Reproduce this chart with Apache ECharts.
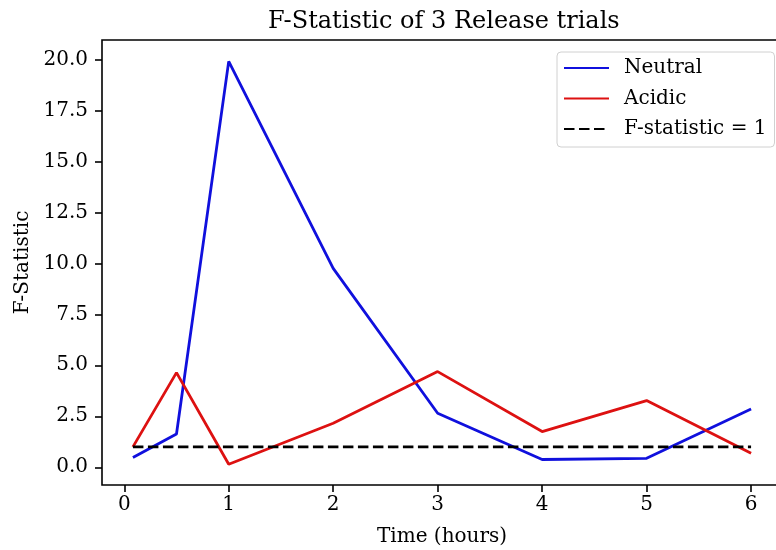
<!DOCTYPE html>
<html>
<head>
<meta charset="utf-8">
<script src="https://cdn.jsdelivr.net/npm/echarts@6/dist/echarts.min.js"></script>
<style>
  html, body { margin: 0; padding: 0; background: #fff; }
  #chart { width: 776px; height: 550px; }
</style>
</head>
<body>
<div id="chart"></div>
<script>
// time points (hours)
const times = [0.083, 0.5, 1, 2, 3, 4, 5, 6]
const neutral = [0.48, 1.63, 19.9, 9.75, 2.65, 0.38, 0.44, 2.86]
const acidic = [1.0, 4.64, 0.15, 2.16, 4.69, 1.75, 3.27, 0.69]
const refLine = [1, 1]
const refTimes = [0.083, 6]
const xTicks = [0, 1, 2, 3, 4, 5, 6]
const yTicks = [0, 2.5, 5, 7.5, 10, 12.5, 15, 17.5, 20]

const font = 'DejaVu Serif'
const chart = echarts.init(document.getElementById('chart'))

const toPairs = (xs, ys) => xs.map((x, i) => [x, ys[i]])

const option = {
  animation: false,
  backgroundColor: '#fff',
  title: {
    text: 'F-Statistic of 3 Release trials',
    left: 263,
    top: 5,
    textStyle: { fontFamily: font, fontSize: 24, fontWeight: 'normal', color: '#000' }
  },
  legend: {
    orient: 'vertical',
    left: 557,
    top: 52,
    padding: [6, 8, 8, 6],
    itemWidth: 45,
    itemHeight: 0.5,   // tiny so no marker dot is drawn on the line sample
    itemGap: 10.5,
    backgroundColor: '#fff',
    borderColor: '#d0d0d0',
    borderWidth: 1,
    borderRadius: 4,
    textStyle: { fontFamily: font, fontSize: 20, color: '#000', lineHeight: 20, padding: [0, 0, 0, 10] },
    data: ['Neutral', 'Acidic', 'F-statistic = 1']
  },
  grid: {
    left: 102,
    top: 40,
    width: 680,   // right spine sits just past the window edge, as in the original
    height: 445,
    show: true,
    borderColor: '#000',
    borderWidth: 1.6,
    containLabel: false,
    outerBoundsMode: 'none'
  },
  xAxis: {
    type: 'value',
    min: -0.213,
    max: 6.296,
    name: 'Time (hours)',
    nameLocation: 'middle',
    nameGap: 42,
    nameTextStyle: { fontFamily: font, fontSize: 20, color: '#000' },
    splitLine: { show: false },
    axisLine: { show: false, onZero: false },
    axisTick: { show: true, customValues: xTicks, length: 7, lineStyle: { color: '#000', width: 1.6 } },
    axisLabel: {
      customValues: xTicks,
      fontFamily: font, fontSize: 20, color: '#000', margin: 10,
      formatter: v => String(v)
    }
  },
  yAxis: {
    type: 'value',
    min: -0.87,
    max: 20.95,
    name: 'F-Statistic',
    nameLocation: 'middle',
    nameGap: 67,
    nameRotate: 90,
    nameTextStyle: { fontFamily: font, fontSize: 20, color: '#000' },
    splitLine: { show: false },
    axisLine: { show: false, onZero: false },
    axisTick: { show: true, customValues: yTicks, length: 7, lineStyle: { color: '#000', width: 1.6 } },
    axisLabel: {
      customValues: yTicks,
      fontFamily: font, fontSize: 20, color: '#000', margin: 14,
      formatter: v => v.toFixed(1)
    }
  },
  series: [
    {
      name: 'Neutral',
      type: 'line',
      symbol: 'none',
      data: toPairs(times, neutral),
      lineStyle: { color: '#1010dd', width: 2.8 },
      itemStyle: { color: '#1010dd' },
      z: 3
    },
    {
      name: 'Acidic',
      type: 'line',
      symbol: 'none',
      data: toPairs(times, acidic),
      lineStyle: { color: '#dd1111', width: 2.8 },
      itemStyle: { color: '#dd1111' },
      z: 3
    },
    {
      name: 'F-statistic = 1',
      type: 'line',
      symbol: 'none',
      data: toPairs(refTimes, refLine),
      lineStyle: { color: '#000', width: 2.8, type: [10.5, 4.5] },
      itemStyle: { color: '#000' },
      z: 4
    }
  ]
}

chart.setOption(option)
</script>
</body>
</html>
